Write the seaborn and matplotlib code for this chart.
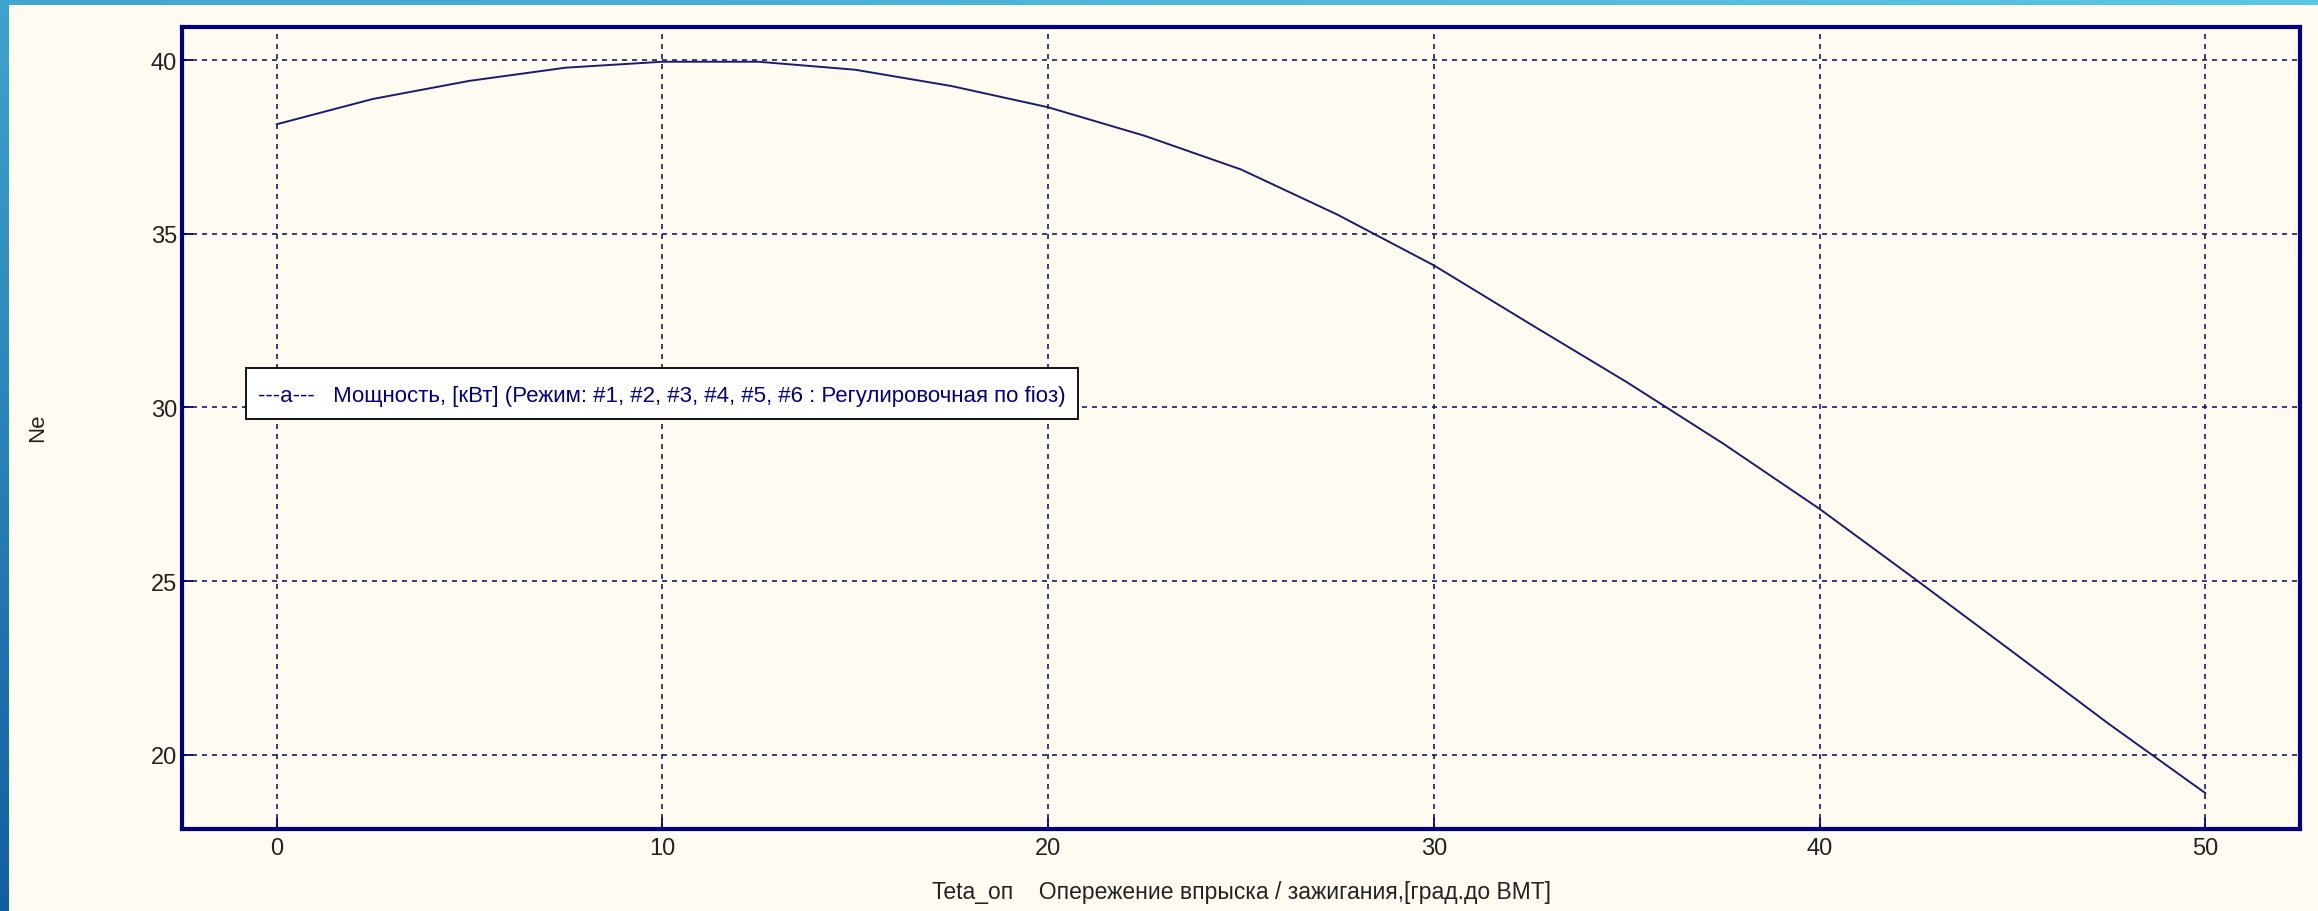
import numpy as np
import pandas as pd
import matplotlib
matplotlib.use('Agg')
import matplotlib.pyplot as plt
import seaborn as sns
from matplotlib.colors import LinearSegmentedColormap

# Значения: Ne (кВт) от угла опережения
teta = [0, 2.5, 5, 7.5, 10, 12.5, 15, 17.5, 20, 22.5, 25,
        27.5, 30, 32.5, 35, 37.5, 40, 42.5, 45, 47.5, 50]
ne = [38.15, 38.88, 39.40, 39.78, 39.95, 39.95, 39.72, 39.25, 38.64, 37.82, 36.85,
      35.55, 34.09, 32.40, 30.73, 28.96, 27.08, 25.04, 22.97, 20.89, 18.90]
xticks = [0, 10, 20, 30, 40, 50]
yticks = [20, 25, 30, 35, 40]
series_label = '---a---   Мощность, [кВт] (Режим: #1, #2, #3, #4, #5, #6 : Регулировочная по fioз)'
xlabel = 'Teta_оп    Опережение впрыска / зажигания,[град.до ВМТ]'
ylabel = 'Ne'

df = pd.DataFrame({'teta': teta, 'ne': ne})

navy = '#000080'
grid_col = '#1a1a6a'
bg = '#FFFBF0'
W, H = 2318, 912

sns.set_theme(style='white')
plt.rcParams['font.family'] = ['Liberation Sans', 'DejaVu Sans']

fig = plt.figure(figsize=(W / 100, H / 100), dpi=100, facecolor=bg)

# синие полосы слайда сверху и слева
strip_top = fig.add_axes([0, 1 - 6 / H, 1, 6 / H])
strip_top.imshow(np.linspace(0, 1, 256)[None, :], aspect='auto',
                 cmap=LinearSegmentedColormap.from_list('t', ['#3FA6CF', '#5CC6E6']))
strip_top.axis('off')
strip_left = fig.add_axes([0, 0, 9 / W, 1])
strip_left.imshow(np.linspace(0, 1, 256)[:, None], aspect='auto',
                  cmap=LinearSegmentedColormap.from_list('l', ['#3EA4CE', '#135F9E']))
strip_left.axis('off')

ax = fig.add_axes([182 / W, 1 - 830 / H, (2300 - 182) / W, (830 - 28) / H])
ax.set_facecolor(bg)

sns.lineplot(data=df, x='teta', y='ne', ax=ax, color='#1c1c6c',
             linewidth=1.4, label=series_label)

ax.set_xlim(-2.45, 52.45)
ax.set_ylim(17.87, 40.95)
ax.set_xticks(xticks)
ax.set_yticks(yticks)
ax.set_xlabel('')
ax.set_ylabel('')

ax.grid(True, color=grid_col, linestyle=(0, (3, 3)), linewidth=1.2)
for sp in ax.spines.values():
    sp.set_visible(True)
    sp.set_color(navy)
    sp.set_linewidth(3)

ax.tick_params(bottom=True, left=True, direction='in', length=8, width=1.3,
               color=navy, labelsize=17, labelcolor='#222222')
ax.tick_params(axis='x', pad=6)
ax.tick_params(axis='y', pad=3.5)

leg = ax.legend(loc='upper left', bbox_to_anchor=(246 / W, 1 - 369 / H),
                bbox_transform=fig.transFigure, handlelength=0, handletextpad=0,
                handleheight=1.45, frameon=True, fancybox=False, edgecolor='black',
                facecolor='white', framealpha=1, fontsize=16, borderpad=0.55,
                borderaxespad=0)
leg.get_frame().set_linewidth(1.3)
for h in leg.legend_handles:
    h.set_visible(False)
for t in leg.get_texts():
    t.set_color(navy)

fig.text(38 / W, 1 - 428 / H, ylabel, rotation=90, ha='center', va='center',
         fontsize=16, color='#222222')
fig.text((182 + 2300) / 2 / W, 1 - 893 / H, xlabel, ha='center', va='center',
         fontsize=16.5, color='#222222')

fig.savefig('out.png', dpi=100, facecolor=bg)
